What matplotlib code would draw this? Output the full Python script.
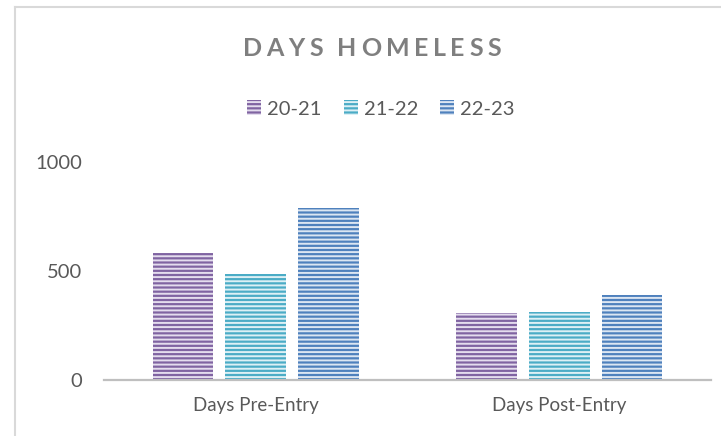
import numpy as np
import matplotlib.pyplot as plt
from matplotlib.lines import Line2D

categories = ['Days Pre-Entry', 'Days Post-Entry']
years = ['20-21', '21-22', '22-23']
values = {
    '20-21': [582, 309],
    '21-22': [486, 314],
    '22-23': [791, 391],
}
colors = ['#8064A2', '#4BACC6', '#4F81BD']
stripe = ['#E4DDEE', '#DDF0F5', '#DCE6F2']
title = 'DAYS HOMELESS'

plt.rcParams['font.family'] = ['Lato', 'DejaVu Sans']
plt.rcParams['hatch.linewidth'] = 1.4

W, H = 721, 436
fig = plt.figure(figsize=(W / 100, H / 100), dpi=100)
ax = fig.add_axes([104 / W, 1 - 380 / H, 607 / W, 218 / H])

x = np.arange(len(categories))
for i, yr in enumerate(years):
    ax.bar(x + (i - 1) * 0.24, values[yr], width=0.2, color=colors[i],
           edgecolor=stripe[i], linewidth=0, hatch='----', label=yr)

ax.set_xlim(-0.5, 1.5)
ax.set_ylim(0, 1000)
ax.set_yticks([0, 500, 1000])
ax.set_xticks(x)
ax.set_xticklabels(categories)
ax.tick_params(axis='both', length=0, labelsize=13.5, labelcolor='#595959')
ax.tick_params(axis='y', pad=16, labelsize=14.5)
ax.tick_params(axis='x', pad=12)
for s in ['left', 'right', 'top']:
    ax.spines[s].set_visible(False)
ax.spines['bottom'].set_color('#BFBFBF')
ax.spines['bottom'].set_linewidth(1.6)

# spaced-out title, placed letter by letter
fig.canvas.draw()
r = fig.canvas.get_renderer()
xpos = 243
for ch in title:
    if ch == ' ':
        xpos += 10
        continue
    t = fig.text(xpos / W, 1 - 49 / H, ch, ha='left', va='center',
                 fontsize=18, fontweight='bold', color='#7F7F7F')
    xpos += t.get_window_extent(r).width + 4.5

ax.legend(loc='center', bbox_to_anchor=(381 / W, 1 - 109 / H), bbox_transform=fig.transFigure,
          ncol=3, frameon=False, fontsize=14.5, labelcolor='#595959',
          handlelength=0.7, handleheight=0.7, handletextpad=0.3, columnspacing=1.1,
          borderpad=0)

# chart border (cropped on right and bottom)
fig.add_artist(Line2D([15 / W, 1], [1 - 7 / H, 1 - 7 / H], color='#D9D9D9', lw=1.5))
fig.add_artist(Line2D([15 / W, 15 / W], [0, 1 - 7 / H], color='#D9D9D9', lw=1.5))

fig.savefig('out.png', dpi=100)
